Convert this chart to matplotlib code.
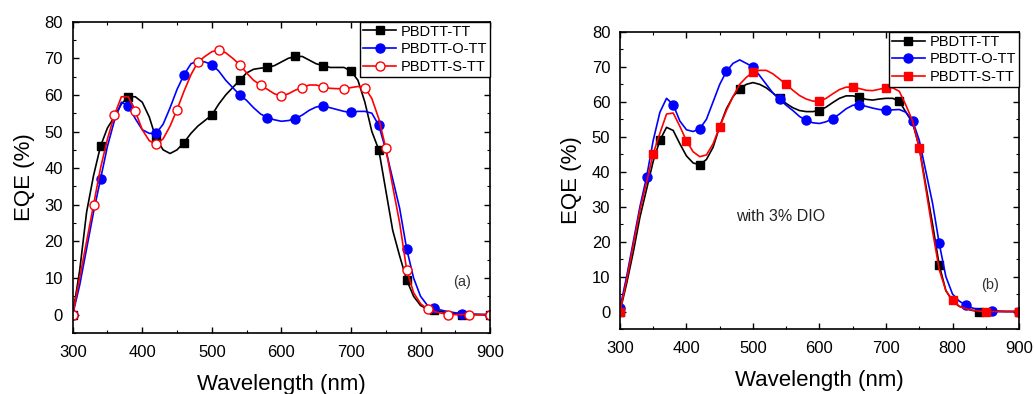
import numpy as np
import matplotlib
matplotlib.use('Agg')
import matplotlib.pyplot as plt

plt.rcParams['font.family'] = ['Liberation Sans', 'DejaVu Sans']

#==============================================================================
# data (10 nm steps)

wl = list(range(300, 910, 10))

# (a) as cast
eqe_a_tt = [0, 12, 28, 38, 46, 51, 54, 57.5, 59.5, 59.5, 58, 54, 48, 45, 44, 45, 47, 49.5, 51.5, 53,
            54.5, 57.5, 60, 62, 64, 66, 67, 67.3, 67.5, 68, 69, 70, 70.5, 70.5, 69.5, 68.5, 68, 67.5, 67.5, 67.5,
            66.5, 64, 58, 50, 45, 34, 23, 16, 9.5, 5, 2.5, 1.5, 1.2, 0.8, 0.5, 0.2, 0, 0, 0, 0, 0]
eqe_a_o = [0, 8, 18, 28, 37, 46, 53, 58, 57, 53.5, 50.5, 49.5, 49.5, 52, 56.5, 61.5, 65.5, 68.5, 69.3, 69,
           68.3, 66.5, 64, 62, 60, 58.5, 56.5, 54.8, 53.8, 53.2, 52.8, 53, 53.5, 54.5, 55.8, 56.7, 57, 56.5, 56, 55.5,
           55.2, 55.5, 55.5, 55, 51.7, 45, 37, 29, 18, 10, 5, 2.5, 1.8, 1.2, 0.8, 0.5, 0.3, 0.2, 0.1, 0, 0]
eqe_a_s = [0, 10, 20, 30, 40, 48, 54.5, 59.5, 59.5, 55.5, 50.5, 47.5, 46.5, 48, 51.5, 56, 61, 65.5, 69, 70.5,
           71.8, 72.3, 71.5, 70, 68.3, 66, 64, 62.7, 61.5, 60.3, 59.7, 60.3, 61.3, 62, 62.7, 62.7, 62.2, 61.8, 61.7, 61.7,
           62, 62.3, 62, 59, 53.5, 45.5, 35, 25, 12.3, 6, 3, 1.5, 0.8, 0.4, 0, 0, 0, 0, 0, 0, 0]

# (b) with 3% DIO
eqe_b_tt = [0, 8, 17, 27, 35, 43, 49, 52.7, 51.8, 48, 44.5, 42.5, 42, 43.5, 47, 53, 58, 61.5, 63.7, 65,
            65.5, 65, 64, 62.5, 61, 59.5, 58.3, 57.5, 57.2, 57.2, 57.5, 58.5, 59.8, 61, 61.7, 61.7, 61.3, 60.7, 60.5, 60.8,
            61, 61, 60.2, 57, 54, 47, 36, 25, 13.3, 6, 3, 1.5, 0.8, 0.3, 0, 0, 0, 0, 0, 0, 0]
eqe_b_o = [1, 10, 20, 30, 38.5, 49, 57, 61, 59.2, 54.5, 52, 51.5, 52.3, 55, 60, 65, 68.7, 71, 72, 71,
           70, 67.5, 65, 62.5, 60.7, 59, 57.5, 55.8, 54.7, 54, 53.8, 54.3, 55.2, 56.5, 58, 59, 59.2, 58.7, 58.2, 57.8,
           57.6, 57.7, 57.8, 57, 54.6, 49, 40, 31, 19.5, 10, 5, 3, 1.8, 1, 0.6, 0.3, 0.2, 0.1, 0, 0, 0]
eqe_b_s = [0, 9, 19, 29, 37, 45.2, 51, 56.5, 56.8, 53, 48.8, 45.7, 44.3, 44.8, 48, 52.9, 57.5, 61.5, 65, 67,
           68.5, 69, 69, 68, 66.5, 65, 63.3, 61.8, 60.8, 60.2, 60.2, 61, 62.3, 63.5, 64.2, 64.2, 63.8, 63.3, 63.2, 63.6,
           64, 64, 63, 59, 54.5, 46.8, 35, 23, 12, 6, 3.2, 1.5, 0.8, 0.4, 0.1, 0, 0, 0, 0, 0, 0]

labels = ['PBDTT-TT', 'PBDTT-O-TT', 'PBDTT-S-TT']

#==============================================================================

fig = plt.figure(figsize=(10.34, 3.94), dpi=100)
ax1 = fig.add_axes([0.0703, 0.155, 0.4037, 0.790])
ax2 = fig.add_axes([0.5996, 0.165, 0.3859, 0.754])


def style_axes(ax):
    ax.set_xlim(300, 900)
    ax.set_ylim(-5, 80)
    ax.set_xticks(range(300, 901, 100))
    ax.set_xticks(range(300, 901, 50), minor=True)
    ax.set_yticks(range(0, 81, 10))
    ax.set_yticks(range(-5, 81, 5), minor=True)
    ax.tick_params(which='both', direction='in', top=True, right=True, labelsize=12)
    ax.tick_params(axis='x', which='both', pad=9)
    ax.tick_params(axis='y', which='both', pad=7)
    ax.tick_params(which='major', length=4, width=1)
    ax.tick_params(which='minor', length=2.5, width=0.8)
    for sp in ax.spines.values():
        sp.set_linewidth(1.2)
    ax.set_xlabel('Wavelength (nm)', fontsize=16, labelpad=10)
    ax.set_ylabel('EQE (%)', fontsize=16, labelpad=7)


# (a)
ax1.plot(wl, eqe_a_tt, '-', color='black', lw=1.2, marker='s', ms=6, markevery=4, label=labels[0])
ax1.plot(wl, eqe_a_o, '-', color='blue', lw=1.2, marker='o', ms=6.5, markevery=4, label=labels[1])
ax1.plot(wl, eqe_a_s, '-', color='red', lw=1.2, marker='o', ms=6.5, markevery=3, mfc='white', mec='red',
         label=labels[2])
style_axes(ax1)
ax1.text(859, 8.8, '(a)', fontsize=10.5, color='#333333', ha='center', va='center')

# (b)
ax2.plot(wl, eqe_b_tt, '-', color='black', lw=1.2, marker='s', ms=6, markevery=6, label=labels[0])
ax2.plot(wl, eqe_b_o, '-', color='blue', lw=1.2, marker='o', ms=6.5, markevery=4, label=labels[1])
ax2.plot(wl, eqe_b_s, '-', color='red', lw=1.2, marker='s', ms=6, markevery=5, label=labels[2])
style_axes(ax2)
ax2.text(856, 7.6, '(b)', fontsize=10.5, color='#333333', ha='center', va='center')
ax2.text(542, 27.2, 'with 3% DIO', fontsize=11.5, color='#222222', ha='center', va='center')

for ax in (ax1, ax2):
    leg = ax.legend(loc='upper right', borderaxespad=0, fontsize=10.5, fancybox=False,
                    edgecolor='black', framealpha=1, handlelength=2.3, handletextpad=0.3,
                    labelspacing=0.25, borderpad=0.2)
    leg.get_frame().set_linewidth(1.0)

fig.savefig('out.png', dpi=100)
